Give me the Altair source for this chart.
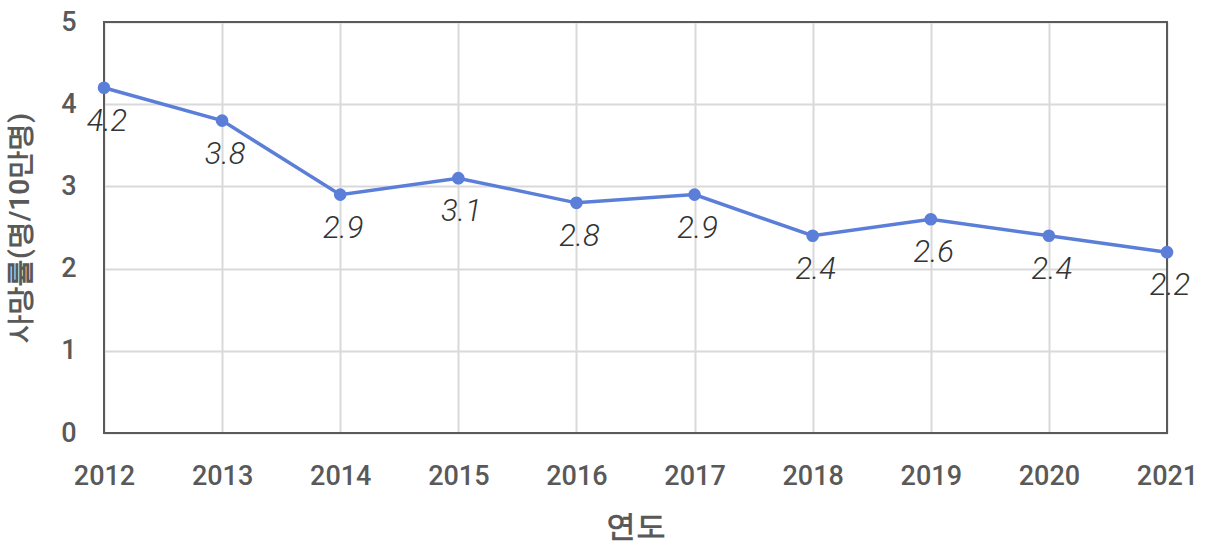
import altair as alt
import pandas as pd

years = ["2012", "2013", "2014", "2015", "2016", "2017", "2018", "2019", "2020", "2021"]
rates = [4.2, 3.8, 2.9, 3.1, 2.8, 2.9, 2.4, 2.6, 2.4, 2.2]
labels = ["4.2", "3.8", "2.9", "3.1", "2.8", "2.9", "2.4", "2.6", "2.4", "2.2"]

df = pd.DataFrame({"year": years, "rate": rates, "label": labels})

FONT = "Roboto"
LINE = "#5B7FD8"
W, H = 1063, 411

x = alt.X("year:O", scale=alt.Scale(type="point", padding=0),
          axis=alt.Axis(title="연도", labelAngle=0, labelFontSize=27, labelColor="#595959",
                        labelFont=FONT, labelFontWeight=500, labelPadding=30, ticks=False,
                        domain=False, grid=True, gridColor="#d9d9d9", gridWidth=2,
                        titleFontSize=30, titleColor="#595959", titleFont=FONT,
                        titleFontWeight=600, titlePadding=22))
y = alt.Y("rate:Q", scale=alt.Scale(domain=[0, 5], nice=False),
          axis=alt.Axis(title="사망률(명/10만명)", values=[0, 1, 2, 3, 4, 5], labelFontSize=27,
                        labelColor="#595959", labelFont=FONT, labelFontWeight=500,
                        labelPadding=28, ticks=False,
                        domain=False, grid=True, gridColor="#d9d9d9", gridWidth=2,
                        titleFontSize=28, titleColor="#595959", titleFont=FONT,
                        titleFontWeight=600, titlePadding=26))

frame = alt.Chart(df).mark_rect(filled=False, stroke="#5a5a5a", strokeWidth=2).encode(
    x=alt.value(0), x2=alt.value(W), y=alt.value(0), y2=alt.value(H))
line = alt.Chart(df).mark_line(color=LINE, strokeWidth=3.5).encode(x=x, y=y)
pts = alt.Chart(df).mark_point(filled=True, color=LINE, size=160, opacity=1).encode(x=x, y=y)
txt = alt.Chart(df).mark_text(font=FONT, fontSize=31, fontStyle="italic", fontWeight=300,
                              color="#333333", dy=34, dx=3, baseline="middle").encode(
    x=x, y=y, text="label:N")

chart = (line + frame + pts + txt).properties(
    width=W, height=H,
    autosize=alt.AutoSizeParams(type="none"),
    padding={"left": 104, "top": 22, "right": 41, "bottom": 118},
).configure(background="white").configure_view(stroke=None)

chart.save("out.html", embed_options={"renderer": "svg", "actions": False})
